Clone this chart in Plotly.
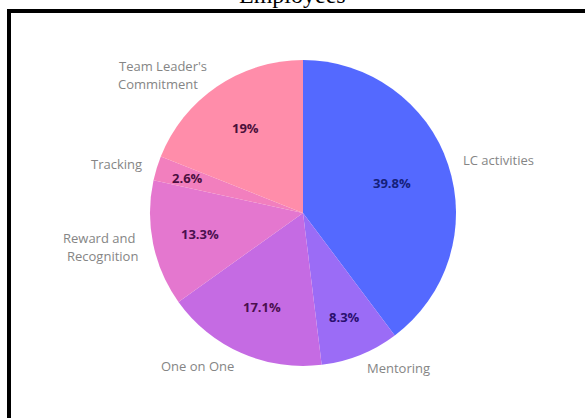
import math
import plotly.graph_objects as go

# Employee engagement drivers, share of responses (%)
categories = ["LC activities", "Mentoring", "One on One", "Reward and Recognition",
              "Tracking", "Team Leader's Commitment"]
label_lines = [["LC activities"], ["Mentoring"], ["One on One"], ["Reward and", "Recognition"],
               ["Tracking"], ["Team Leader's", "Commitment"]]
shares = [39.8, 8.3, 17.1, 13.3, 2.6, 19]

# styling
slice_colors = ["#5469FF", "#9B6CF6", "#C56BE3", "#E477CF", "#F27FBE", "#FF8DAA"]
pct_colors = ["#14207A", "#2A0F6E", "#4A0F4E", "#4A0F4E", "#4A0F40", "#4A0F3A"]
pct_radius = [0.61, 0.73, 0.67, 0.69, 0.79, 0.67]

W, H = 585, 418
CX, CY, R = 303, 213, 153          # pie centre / radius in pixels
LABEL_R = 1.09
LINE_GAP = 18                      # pixel spacing of two-line category names


def px(x):
    return x / W


def py(y):
    return 1 - y / H


fig = go.Figure(go.Pie(
    labels=categories,
    values=shares,
    sort=False,
    direction="clockwise",
    rotation=0,
    marker=dict(colors=slice_colors, line=dict(width=0)),
    textinfo="none",
    hoverinfo="label+percent",
    domain=dict(x=[px(CX - R), px(CX + R)], y=[py(CY + R), py(CY - R)]),
    showlegend=False,
))

annotations = []
total = sum(shares)
start = 0.0
for lines, v, pc, pr in zip(label_lines, shares, pct_colors, pct_radius):
    mid = (start + v / 2) / total * 2 * math.pi
    start += v
    sx, sy = math.sin(mid), -math.cos(mid)
    # percentage inside the slice
    annotations.append(dict(
        x=px(CX + sx * R * pr), y=py(CY + sy * R * pr), xref="paper", yref="paper",
        text=f"<b>{v:g}%</b>", showarrow=False, xanchor="center", yanchor="middle",
        font=dict(family="Open Sans", size=13, color=pc),
    ))
    # category name outside the pie, one annotation per line
    lx = CX + sx * R * LABEL_R
    ly = CY + sy * R * LABEL_R
    n = len(lines)
    if n > 1:
        # centre each line within the widest one
        widest = max(len(s) for s in lines)
    for i, line in enumerate(lines):
        yy = ly + (i - (n - 1) / 2) * LINE_GAP
        anchor = "left" if sx > 0.05 else "right"
        xx = lx
        if n > 1 and len(line) < widest:
            shift = (widest - len(line)) * 3.0
            xx = lx + (shift if anchor == "left" else -shift)
        annotations.append(dict(
            x=px(xx), y=py(yy), xref="paper", yref="paper",
            text=line, showarrow=False,
            xanchor=anchor, yanchor="middle",
            font=dict(family="Open Sans", size=13, color="#858585"),
        ))

annotations.append(dict(
    x=0.5, y=py(10), xref="paper", yref="paper", text="Employees", showarrow=False,
    xanchor="center", yanchor="bottom",
    font=dict(family="Liberation Serif, Times New Roman, serif", size=24, color="#000000"),
))

fig.update_layout(
    width=W, height=H,
    margin=dict(l=0, r=0, t=0, b=0),
    paper_bgcolor="white",
    plot_bgcolor="white",
    annotations=annotations,
    shapes=[dict(type="rect", xref="paper", yref="paper",
                 x0=px(9), x1=1.3, y0=-0.3, y1=py(11),
                 line=dict(color="black", width=4), fillcolor="rgba(0,0,0,0)")],
)

fig.write_html("out.html")
